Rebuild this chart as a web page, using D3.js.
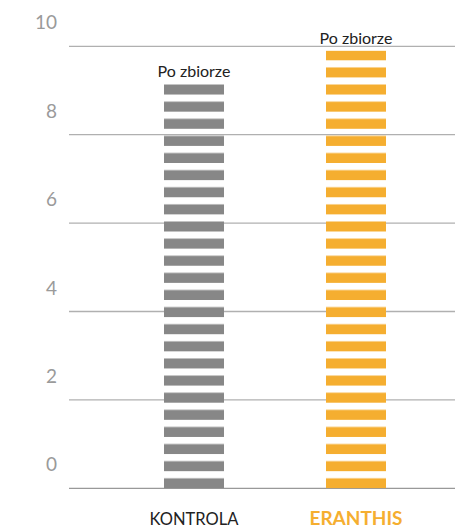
<!DOCTYPE html>
<html>
<head>
<meta charset="utf-8">
<script src="https://cdn.jsdelivr.net/npm/d3@7"></script>
<style>
  body { margin: 0; background: #fff; }
  svg { display: block; font-family: Lato, sans-serif; }
</style>
</head>
<body>
<div class="container"></div>
<script>
// chart data
const categories = ['KONTROLA', 'ERANTHIS'];
const values = [9.15, 9.9];
const barLabels = ['Po zbiorze', 'Po zbiorze'];
const yTicks = [0, 2, 4, 6, 8, 10];

// svg dimensions
const width = 455;
const height = 529;
const barWidth = 60;
const colors = ['#878787', '#f5ae30'];

const svg = d3.select('.container')
    .append('svg')
    .attr('width', width)
    .attr('height', height);

const yScale = d3.scaleLinear().domain([0, 10]).range([488.3, 46.3]);
const xScale = d3.scalePoint().domain(categories).range([113, 437]).padding(0.5);

// striped fills, anchored on the baseline
const period = 17.12;
const stripe = 10;
const defs = svg.append('defs');
colors.forEach((c, i) => {
    const p = defs.append('pattern')
        .attr('id', 'stripes' + i)
        .attr('patternUnits', 'userSpaceOnUse')
        .attr('x', 0)
        .attr('y', yScale(0) - period * 40)
        .attr('width', width)
        .attr('height', period);
    p.append('rect')
        .attr('x', 0)
        .attr('y', period - stripe)
        .attr('width', width)
        .attr('height', stripe)
        .attr('fill', c);
});

// grid lines
svg.append('g')
    .selectAll('line')
    .data(yTicks)
    .enter()
    .append('line')
    .attr('x1', 69)
    .attr('x2', width)
    .attr('y1', d => yScale(d))
    .attr('y2', d => yScale(d))
    .attr('stroke', d => d === 0 ? '#999' : '#b0b0b0')
    .attr('stroke-width', 1.3);

// y labels sit above their lines
svg.append('g')
    .selectAll('text')
    .data(yTicks)
    .enter()
    .append('text')
    .attr('x', 57)
    .attr('y', d => yScale(d) - 17)
    .attr('text-anchor', 'end')
    .attr('font-size', '19px')
    .attr('fill', '#9a9a9a')
    .text(d => d);

// bars
svg.append('g')
    .selectAll('rect')
    .data(values)
    .enter()
    .append('rect')
    .attr('x', (d, i) => xScale(categories[i]) - barWidth / 2)
    .attr('y', d => yScale(d))
    .attr('width', barWidth)
    .attr('height', d => yScale(0) - yScale(d))
    .attr('fill', (d, i) => `url(#stripes${i})`);

// labels over bars
svg.append('g')
    .selectAll('text')
    .data(values)
    .enter()
    .append('text')
    .attr('x', (d, i) => xScale(categories[i]))
    .attr('y', d => yScale(d) - 6.5)
    .attr('text-anchor', 'middle')
    .attr('font-size', '16px')
    .attr('fill', '#222')
    .text((d, i) => barLabels[i]);

// category labels
svg.append('g')
    .selectAll('text')
    .data(categories)
    .enter()
    .append('text')
    .attr('x', d => xScale(d))
    .attr('y', 525)
    .attr('text-anchor', 'middle')
    .attr('font-size', (d, i) => i === 1 ? '19px' : '16.5px')
    .attr('font-weight', (d, i) => i === 1 ? 'bold' : 'normal')
    .attr('fill', (d, i) => i === 1 ? colors[1] : '#222')
    .text(d => d);
</script>
</body>
</html>
